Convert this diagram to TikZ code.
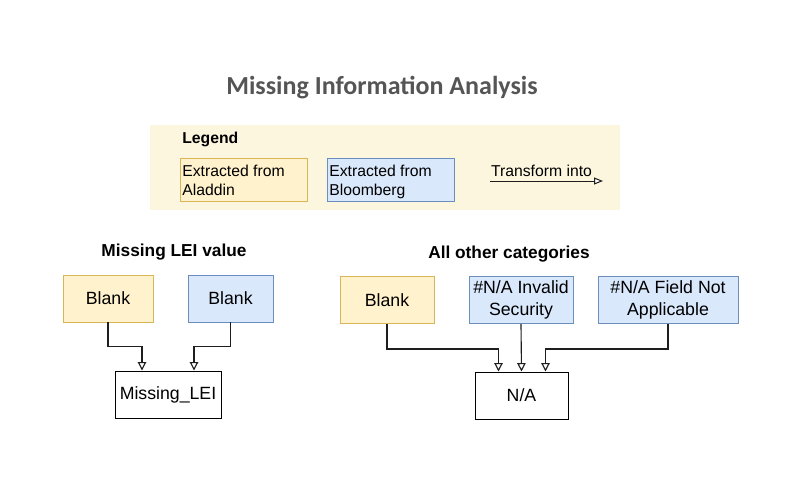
\documentclass[tikz,border=0pt]{standalone}
\usepackage{fontspec}
\setmainfont{Liberation Sans}
\newfontfamily\titlefont{Carlito}
\usetikzlibrary{positioning,arrows.meta,calc}
\definecolor{srcyellow}{RGB}{255,242,204}
\definecolor{srcyellowline}{RGB}{214,182,86}
\definecolor{srcblue}{RGB}{218,232,252}
\definecolor{srcblueline}{RGB}{108,142,191}
\definecolor{legendbg}{RGB}{253,246,223}
\definecolor{titlegrey}{RGB}{85,85,85}
\definecolor{lndark}{RGB}{30,30,30}
\tikzset{
  boxtext/.style={font=\fontsize{12.6}{15.6}\selectfont,align=center,inner sep=1pt},
  box/.style={boxtext,draw,line width=0.7pt,minimum height=11.75mm},
  ylwbox/.style={box,fill=srcyellow,draw=srcyellowline},
  blubox/.style={box,fill=srcblue,draw=srcblueline},
  outbox/.style={box,draw=black,fill=white},
  keybox/.style={draw,line width=0.6pt,minimum height=10.75mm,minimum width=31.75mm,
                 inner sep=0pt},
  keytext/.style={align=left,inner sep=0pt,font=\fontsize{11.2}{13.6}\selectfont},
  hd/.style={font=\bfseries\fontsize{12.3}{14}\selectfont,inner sep=1pt},
  ln/.style={lndark,line width=0.8pt,-{Triangle[length=2.1mm,width=2.1mm,fill=white]}},
}
\begin{document}
\begin{tikzpicture}[x=0.25mm,y=-0.25mm]
\useasboundingbox (0,0) rectangle (800,502);

\node[font=\titlefont\bfseries\fontsize{18.5}{20}\selectfont,text=titlegrey] (title) at (382,88)
     {Missing Information Analysis};

% legend
\fill[legendbg] (150,125) rectangle (620,210);
\node[font=\bfseries\fontsize{11.2}{13}\selectfont,anchor=west,inner sep=0pt] (legend) at (182,139) {Legend};
\node[keybox,fill=srcyellow,draw=srcyellowline,anchor=north west] (keyaladdin) at (180,158) {};
\node[keytext,anchor=north west] (keyaladdintxt) at ([shift={(0.5mm,-1.6mm)}]keyaladdin.north west)
     {Extracted from\\Aladdin};
\node[keybox,fill=srcblue,draw=srcblueline,anchor=north west] (keybloomberg) at (327,158) {};
\node[keytext,anchor=north west] (keybloombergtxt) at ([shift={(0.5mm,-1.6mm)}]keybloomberg.north west)
     {Extracted from\\Bloomberg};
\coordinate (tr0) at (490,181);
\coordinate (tr1) at (603,181);
\draw[ln,line width=0.7pt,-{Triangle[length=2.2mm,width=1.7mm,fill=white]}] (tr0) -- (tr1);
\node[font=\fontsize{11.2}{13}\selectfont,anchor=south west,inner sep=0.6mm] (trlabel) at ([xshift=-0.4mm,yshift=0.3mm]tr0)
     {Transform into};

% missing LEI value
\node[hd] (leihd) at (174,252) {Missing LEI value};
\node[ylwbox,minimum width=22.5mm] (leiy) at (108,298.5) {Blank};
\node[blubox,minimum width=21.25mm] (leib) at (230.5,298.5) {Blank};
\node[outbox,minimum width=26.5mm] (lei) at (168,394.5) {Missing\_LEI};

\draw[ln] (leiy.south) -- ++(0,24) -| ([xshift=-6.5mm]lei.north);
\draw[ln] (leib.south) -- ++(0,24) -| ([xshift=6.5mm]lei.north);

% all other categories
\node[hd] (othhd) at (509,254) {All other categories};
\node[ylwbox,minimum width=23.5mm] (othy) at (387,300) {Blank};
\node[blubox,minimum width=26mm] (othinv) at (521,300) {\#N/A Invalid\\Security};
\node[blubox,minimum width=35mm] (othfld) at (668,300) {\#N/A Field Not\\Applicable};
\node[outbox,minimum width=23.25mm] (na) at (521.5,395.5) {N/A};

\draw[ln] (othy.south) -- ++(0,25) -| ([xshift=-5.75mm]na.north);
\draw[ln] (othinv.south) -- (na.north);
\draw[ln] (othfld.south) -- ++(0,25) -| ([xshift=6mm]na.north);

\end{tikzpicture}
\end{document}
